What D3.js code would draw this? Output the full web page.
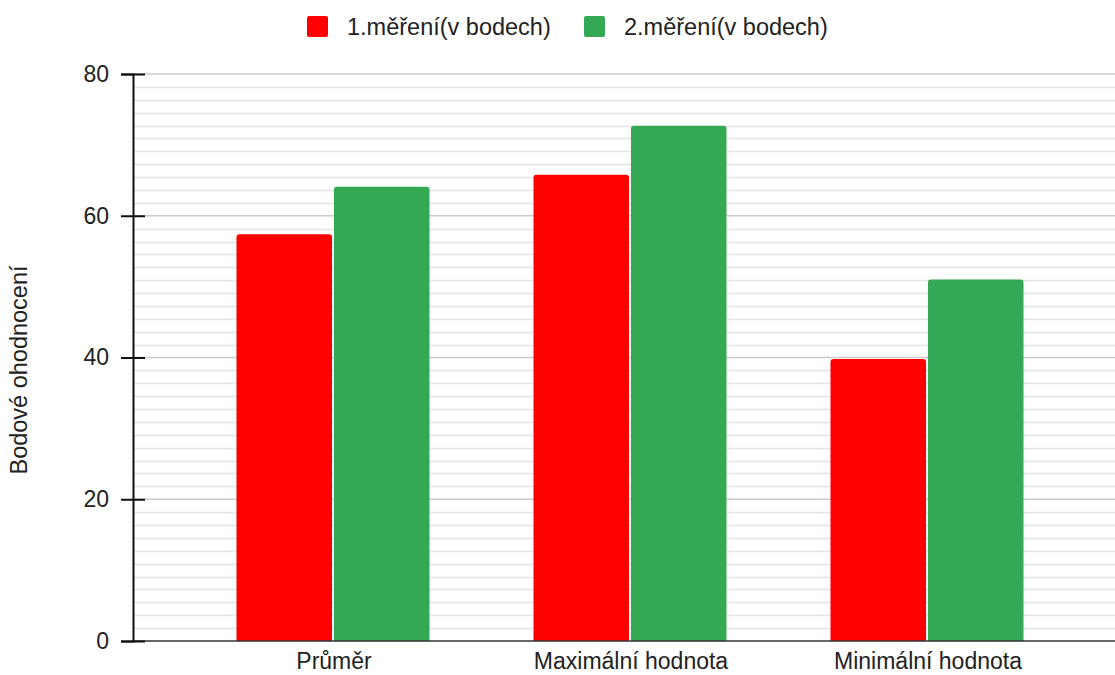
<html>
<head>
<style> body { margin: 0; background: #fff; } text { font-family: "Liberation Sans", Arial, sans-serif; } </style>
<script src="https://d3js.org/d3.v7.min.js"></script>
</head>
<body>
<svg id="chart" width="1115" height="675"></svg>
<script>
  const categories = ['Průměr', 'Maximální hodnota', 'Minimální hodnota']
  const seriesNames = ['1.měření(v bodech)', '2.měření(v bodech)']
  const measure1 = [57.4, 65.8, 39.8]
  const measure2 = [64.1, 72.7, 51.0]
  const yTicks = [0, 20, 40, 60, 80]

  const colors = ['#ff0000', '#34a853']
  const textColor = '#222'

  const svg = d3.select('#chart')
  const plotTop = 74, plotBottom = 641, axisX = 133, rightEdge = 1115

  const y = d3.scaleLinear().domain([0, 80]).range([plotBottom, plotTop])
  const x = d3.scaleBand().domain(categories).range([184.5, 1075.5])
  const xInner = d3.scaleBand().domain(seriesNames).range([52, 245]).paddingInner(0.02)

  // minor grid: 10 lines inside each major interval
  const minor = []
  for (let i = 0; i < yTicks.length - 1; i++) {
    const a = yTicks[i], b = yTicks[i + 1]
    for (let k = 1; k <= 10; k++) minor.push(a + (b - a) * k / 11)
  }
  svg.append('g').selectAll('line').data(minor).join('line')
    .attr('x1', axisX).attr('x2', rightEdge)
    .attr('y1', d => Math.round(y(d)) + 0.5).attr('y2', d => Math.round(y(d)) + 0.5)
    .attr('stroke', '#e4e4e4').attr('stroke-width', 1.5)

  svg.append('g').selectAll('line').data(yTicks.filter(d => d > 0)).join('line')
    .attr('x1', axisX).attr('x2', rightEdge)
    .attr('y1', d => y(d)).attr('y2', d => y(d))
    .attr('stroke', '#cccccc').attr('stroke-width', 1.5)

  // bars
  const rows = categories.map((c, i) => ({ cat: c, vals: [measure1[i], measure2[i]] }))
  svg.append('g').selectAll('g').data(rows).join('g')
    .attr('transform', d => `translate(${x(d.cat)},0)`)
    .selectAll('path').data(d => d.vals.map((v, j) => ({ v, s: seriesNames[j], j })))
    .join('path')
      .attr('fill', d => colors[d.j])
      .attr('d', d => {
        const x0 = xInner(d.s), w = xInner.bandwidth(), y0 = y(d.v), r = 3
        return `M${x0},${plotBottom}V${y0 + r}Q${x0},${y0} ${x0 + r},${y0}H${x0 + w - r}Q${x0 + w},${y0} ${x0 + w},${y0 + r}V${plotBottom}Z`
      })

  // baseline
  svg.append('line').attr('x1', axisX).attr('x2', rightEdge)
    .attr('y1', plotBottom).attr('y2', plotBottom).attr('stroke', '#333').attr('stroke-width', 1.5)

  // y axis
  const yAxis = svg.append('g').attr('transform', `translate(${axisX},0)`)
    .call(d3.axisLeft(y).tickValues(yTicks).tickSize(12).tickPadding(12))
  yAxis.select('.domain').attr('stroke', '#111').attr('stroke-width', 2)
  yAxis.selectAll('.tick line').attr('stroke', '#111').attr('stroke-width', 2).attr('x2', 12).attr('x1', -12)
  yAxis.selectAll('.tick text').attr('fill', textColor).style('font-size', '23px')
    .attr('font-family', '"Liberation Sans", Arial, sans-serif')

  // x labels
  svg.append('g').selectAll('text').data(categories).join('text')
    .attr('x', d => x(d) + x.bandwidth() / 2 + 1)
    .attr('y', 669)
    .attr('text-anchor', 'middle')
    .attr('fill', textColor)
    .style('font-size', '23px')
    .text(d => d)

  // y title
  svg.append('text')
    .attr('transform', 'translate(27,370) rotate(-90)')
    .attr('text-anchor', 'middle')
    .attr('fill', textColor)
    .style('font-size', '23.5px')
    .text('Bodové ohodnocení')

  // legend
  const legendX = [307, 584]
  const legend = svg.append('g').selectAll('g').data(seriesNames).join('g')
    .attr('transform', (d, i) => `translate(${legendX[i]},16)`)
  legend.append('rect').attr('width', 21).attr('height', 21).attr('rx', 2)
    .attr('fill', (d, i) => colors[i])
  legend.append('text').attr('x', 40).attr('y', 19)
    .attr('fill', textColor).style('font-size', '23.5px')
    .text(d => d)
</script>
</body>
</html>
